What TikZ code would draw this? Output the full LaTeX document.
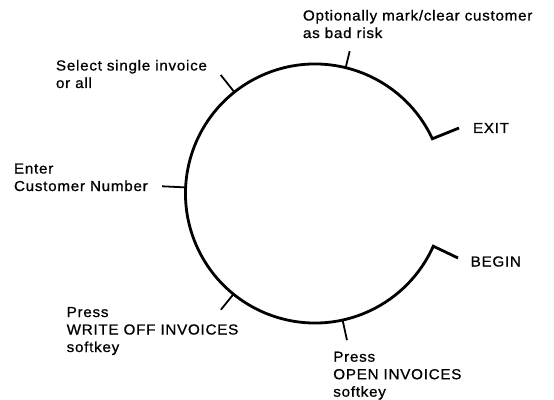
\documentclass[tikz,border=0pt]{standalone}
\usepackage{fontspec}
\setmainfont{Liberation Sans}[LetterSpace=5,FakeStretch=1.05,FakeBold=0.8]
\begin{document}
\begin{tikzpicture}[x=1pt,y=1pt,
  loop/.style={line width=2.8pt, line join=miter},
  tick/.style={line width=1.8pt},
  lbl/.style={inner sep=0pt, outer sep=0pt, align=left, anchor=base west,
    font=\fontsize{14.5}{17.5}\selectfont}]
\useasboundingbox (-315,-205.5) rectangle (239,193.5);
\def\R{129.5}
\coordinate (hub) at (0,0);

% the open loop, entered at BEGIN and left at EXIT
\coordinate (exit-on) at (25:\R);
\coordinate (exit-end) at (144,65.5);
\coordinate (begin-on) at (336:\R);
\coordinate (begin-end) at (143,-64.5);
\draw[loop] (exit-end) -- (exit-on)
  arc[start angle=25, end angle=336, radius=\R pt] -- (begin-end);

% radial ticks marking the steps on the loop
\foreach \name/\ang/\len in {opt/76.3/17, sel/128.5/22, ent/177.3/23.5,
                             wo/231/20, open/282.3/20.6} {
  \coordinate (\name-on) at (\ang:\R);
  \coordinate (\name-out) at (\ang:{\R+\len});
  \draw[tick] (\name-on) -- (\name-out);
}

% step labels (anchored at the baseline of their last line)
\node[lbl] (opt) at (-12,155.5) {Optionally mark/clear customer\\as bad risk};
\node[lbl] (sel) at (-259,105.5) {Select single invoice\\or all};
\node[lbl] (ent) at (-301,2.5) {Enter\\Customer Number};
\node[lbl] (wo) at (-248.3,-158.5) {Press\\WRITE OFF INVOICES\\softkey};
\node[lbl] (open) at (18.3,-203.2) {Press\\OPEN INVOICES\\softkey};
\node[lbl] (exit) at (158,60.5) {EXIT};
\node[lbl] (begin) at (155.7,-73) {BEGIN};
\end{tikzpicture}
\end{document}
